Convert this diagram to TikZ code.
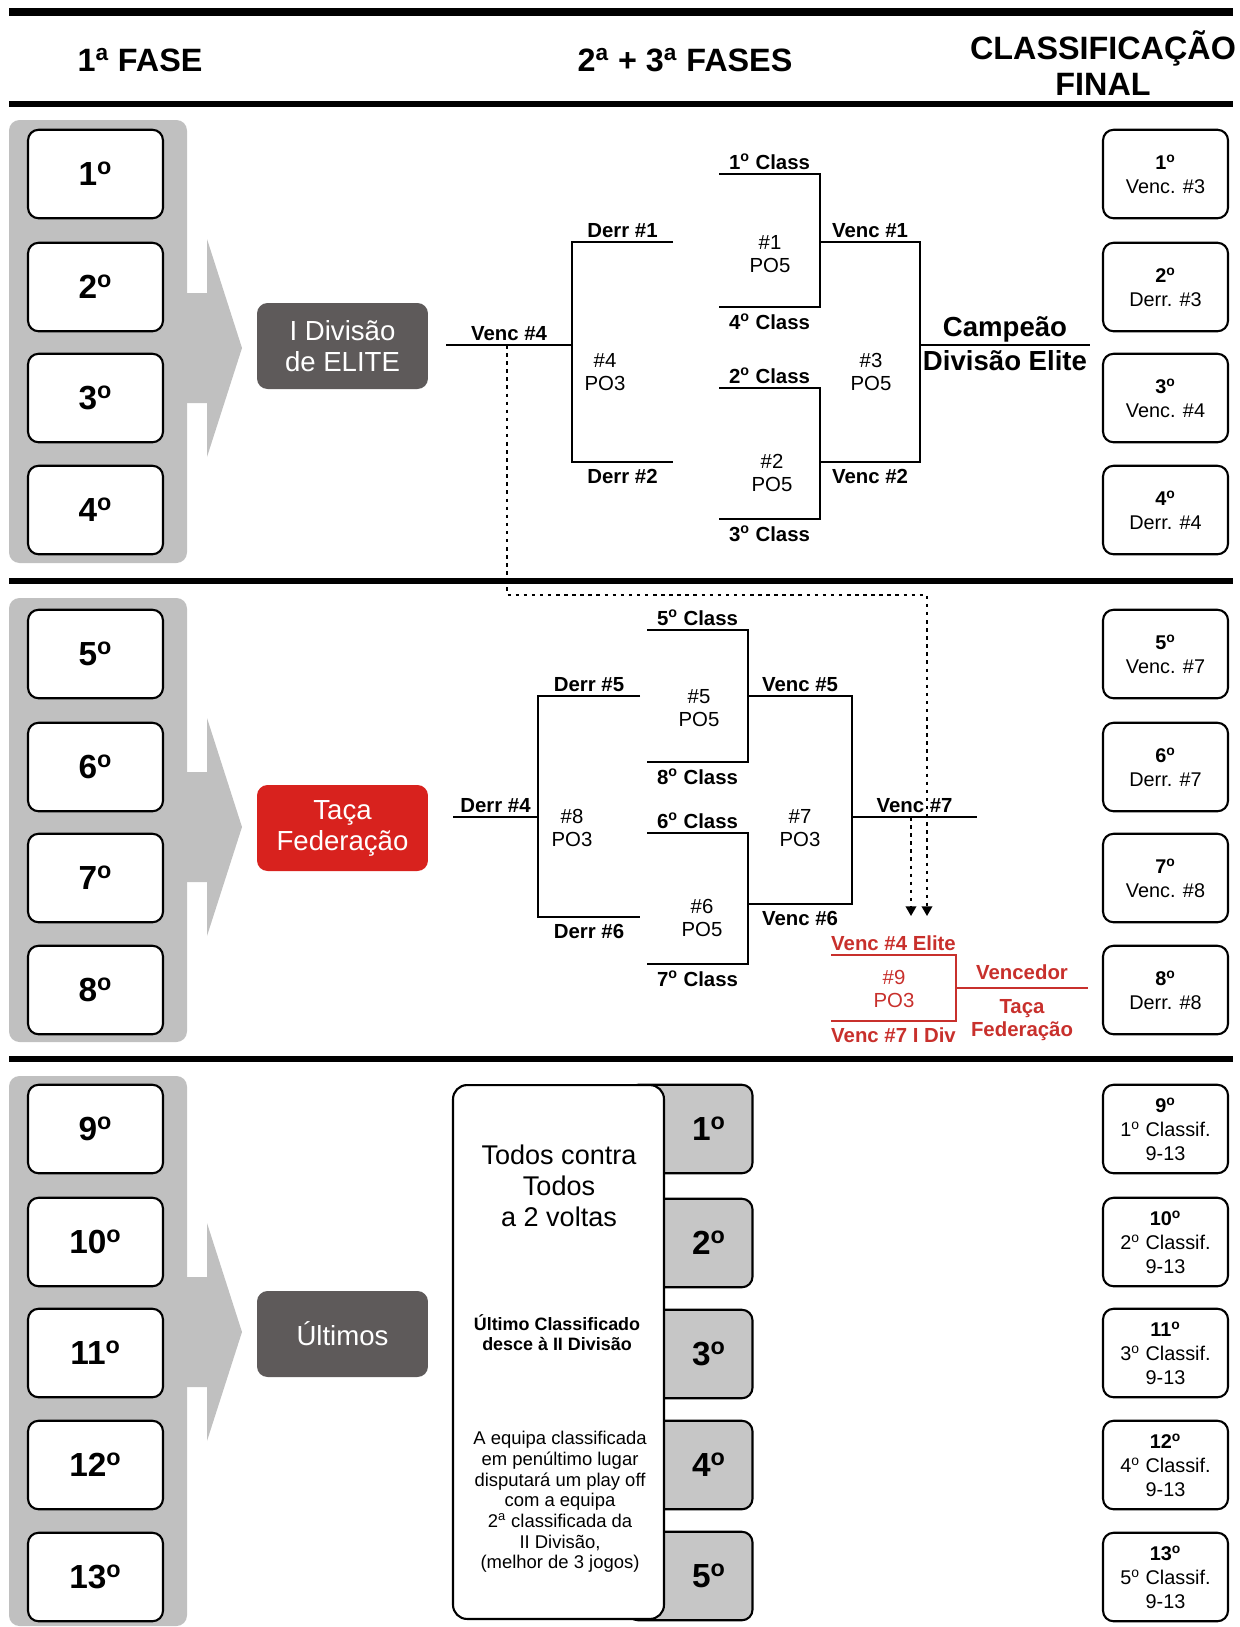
\documentclass[tikz,border=0pt]{standalone}
\usepackage{fontspec}
\setmainfont{Liberation Sans}
\usetikzlibrary{arrows.meta}

\definecolor{panelgray}{HTML}{C0C0C0}
\definecolor{tabgray}{HTML}{C6C6C6}
\definecolor{darkbox}{HTML}{5E5A5A}
\definecolor{redbox}{HTML}{D8221E}
\definecolor{redtxt}{HTML}{C8302C}

\newcommand{\ordo}{\textsuperscript{o}}
\newcommand{\orda}{\textsuperscript{a}}

\tikzset{
  rankbox/.style={rectangle, draw, line width=1.2pt, rounded corners=6pt, fill=white,
    minimum width=2.7cm, minimum height=1.77cm, font=\fontsize{19}{22}\selectfont\bfseries},
  resbox/.style={rectangle, draw, line width=1.2pt, rounded corners=6pt, fill=white,
    minimum width=2.5cm, minimum height=1.77cm, align=center, font=\fontsize{11.3}{13.6}\selectfont},
  tabbox/.style={rectangle, draw, line width=1.2pt, rounded corners=6pt, fill=tabgray,
    minimum width=2.5cm, minimum height=1.77cm},
  divbox/.style={rectangle, rounded corners=6pt, text=white, minimum width=3.42cm,
    minimum height=1.72cm, align=center, font=\fontsize{15.7}{17.6}\selectfont},
  head/.style={align=center, font=\fontsize{18.4}{20.4}\selectfont\bfseries},
  lbl/.style={font=\fontsize{11.6}{13.3}\selectfont\bfseries, align=center},
  lblup/.style={lbl, above, inner sep=2pt},
  lbldn/.style={lbl, below, inner sep=3.5pt},
  game/.style={align=center, font=\fontsize{11.6}{13.5}\selectfont},
  bline/.style={line width=1.2pt},
  rule/.style={line width=3.6pt},
  feed/.style={line width=1.1pt, dash pattern=on 2pt off 2.6pt, -{Triangle[width=6pt,length=5.5pt]}}
}

% bracket: [opts]{name}{x open end}{x spine}{y top}{y bottom}{top label}{bottom label}
\newcommand{\matchtie}[8][]{%
  \coordinate (#2a) at (#3,#5);
  \coordinate (#2b) at (#4,#5);
  \coordinate (#2c) at (#4,#6);
  \coordinate (#2d) at (#3,#6);
  \draw[bline,#1] (#2a) -- node[lblup] (#2top) {#7} (#2b) -- (#2c)
    -- node[lbldn] (#2bot) {#8} (#2d);
}
% grey arrow out of a panel
\newcommand{\bigarrow}[1]{%
  \fill[panelgray] (187,#1-55) -- (207,#1-55) -- (207,#1-109) -- (242,#1)
    -- (207,#1+109) -- (207,#1+55) -- (187,#1+55) -- cycle;
}

\begin{document}
\begin{tikzpicture}[x=0.02cm, y=-0.02cm]
  \useasboundingbox (0,0) rectangle (1240,1627);

  % Header
  \node (h1) [head] at (140,60) {1\orda{} FASE};
  \node (h2) [head] at (685,60) {2\orda{} + 3\orda{} FASES};
  \node (h3) [head] at (1103,63) {CLASSIFICAÇÃO\\FINAL};

  % Panels and arrows
  \fill[panelgray, rounded corners=6pt] (9,120) rectangle (187,563);
  \fill[panelgray, rounded corners=6pt] (9,598) rectangle (187,1042);
  \fill[panelgray, rounded corners=6pt] (9,1076) rectangle (187,1626);
  \bigarrow{348}
  \bigarrow{827}
  \bigarrow{1332}

  % Nodes: first phase
  \foreach \y [count=\i] in {174,287,398,510}
    \node (a\i) [rankbox] at (95.5,\y) {\i\ordo};
  \foreach \y [count=\i from 5] in {654,767,878,990}
    \node (a\i) [rankbox] at (95.5,\y) {\i\ordo};
  \foreach \y [count=\i from 9] in {1129,1242,1353,1465,1577}
    \node (a\i) [rankbox] at (95.5,\y) {\i\ordo};

  \node (elite) [divbox, fill=darkbox] at (342.5,346) {I Divisão\\de ELITE};
  \node (taca) [divbox, fill=redbox] at (342.5,828) {Taça\\Federação};
  \node (ultimos) [divbox, fill=darkbox] at (342.5,1334) {Últimos};

  % Nodes: final classification
  \foreach \y/\i/\r in {174/1/Venc. \#3, 287/2/Derr. \#3, 398/3/Venc. \#4, 510/4/Derr. \#4,
      654/5/Venc. \#7, 767/6/Derr. \#7, 878/7/Venc. \#8, 990/8/Derr. \#8}
    \node (f\i) [resbox] at (1165.5,\y) {\textbf{\i\ordo}\\\r};
  \foreach \y/\i/\k in {1129/9/1, 1242/10/2, 1353/11/3, 1465/12/4, 1577/13/5}
    \node (f\i) [resbox] at (1165.5,\y) {\textbf{\i\ordo}\\\k\ordo{} Classif.\\9-13};

  % Elite brackets
  \matchtie{t4}{673}{572}{242}{462}{Derr \#1}{Derr \#2}
  \matchtie{t1}{719}{820}{174}{307}{1\ordo{} Class}{4\ordo{} Class}
  \matchtie{t2}{719}{820}{388}{519}{2\ordo{} Class}{3\ordo{} Class}
  \matchtie{t3}{820}{920}{242}{462}{Venc \#1}{Venc \#2}
  \coordinate (v4) at (446,345);
  \coordinate (ch1) at (1090,345);
  \draw[bline] (v4) -- node[lblup] (v4l) {Venc \#4} (v4 -| t4b);
  \draw[bline] (ch1 -| t3b) -- node[lblup, inner sep=1pt, font=\fontsize{15.7}{17}\selectfont\bfseries] (ch1a) {Campeão}
    node[below, inner sep=2.5pt, font=\fontsize{15.7}{17}\selectfont\bfseries] (ch1b) {Divisão Elite} (ch1);
  \node (g4) [game] at (605,372) {\#4\\PO3};
  \node (g1) [game] at (770,254) {\#1\\PO5};
  \node (g2) [game] at (772,473) {\#2\\PO5};
  \node (g3) [game] at (871,372) {\#3\\PO5};

  % Taca brackets
  \matchtie{t8}{640}{538}{696}{917}{Derr \#5}{Derr \#6}
  \matchtie{t5}{647}{748}{630}{762}{5\ordo{} Class}{8\ordo{} Class}
  \matchtie{t6}{647}{748}{833}{964}{6\ordo{} Class}{7\ordo{} Class}
  \matchtie{t7}{748}{852}{696}{904}{Venc \#5}{Venc \#6}
  \coordinate (d4) at (453,817);
  \coordinate (v7) at (977,817);
  \draw[bline] (d4) -- node[lblup] (d4l) {Derr \#4} (d4 -| t8b);
  \draw[bline] (v7 -| t7b) -- node[lblup] (v7l) {Venc \#7} (v7);
  \node (g8) [game] at (572,828) {\#8\\PO3};
  \node (g5) [game] at (699,708) {\#5\\PO5};
  \node (g6) [game] at (702,918) {\#6\\PO5};
  \node (g7) [game] at (800,828) {\#7\\PO3};

  % Final play off
  \matchtie[redtxt]{t9}{831}{956}{955}{1021}{Venc \#4 Elite}{Venc \#7 I Div}
  \coordinate (ch9) at (1088,988);
  \draw[bline, redtxt] (ch9 -| t9b) -- node[lblup, inner sep=4.4pt] (ch9a) {Vencedor}
    node[lbldn, inner sep=5.8pt] (ch9b) {Taça\\Federação} (ch9);
  \node (g9) [game, text=redtxt] at (894,989) {\#9\\PO3};

  % Arrows
  \coordinate (v4d) at (507,345);
  \coordinate (fold) at (927,595);
  \coordinate (e4) at (927,916);
  \coordinate (v7d) at (911,817);
  \coordinate (e7) at (911,916);
  \draw[feed] (v4d) |- (fold) -- (e4);
  \draw[feed] (v7d) -- (e7);

  % Round robin
  \foreach \y [count=\i] in {1129,1243,1354,1465,1576}
    \node (tab\i) [tabbox] at (690,\y) {};
  \node (rr) [draw, line width=1.2pt, rounded corners=8pt, fill=white, minimum width=4.22cm,
    minimum height=10.68cm] at (558.5,1352) {};
  \foreach \y [count=\i] in {1129,1243,1354,1465,1576}
    \node (tabn\i) [font=\fontsize{19}{22}\selectfont\bfseries] at (709,\y) {\i\ordo};
  \node (rr1) [align=center, font=\fontsize{15.4}{17.6}\selectfont] at (559,1186)
    {Todos contra\\Todos\\a 2 voltas};
  \node (rr2) [align=center, font=\fontsize{10.2}{11.3}\selectfont\bfseries] at (557,1333)
    {Último Classificado\\desce à II Divisão};
  \node (rr3) [align=center, font=\fontsize{10.5}{11.8}\selectfont] at (560,1502)
    {A equipa classificada\\em penúltimo lugar\\disputará um play off\\com a equipa\\2\orda{} classificada da\\II Divisão,\\(melhor de 3 jogos)};

  % Rules
  \draw[rule, line width=4pt] (9,12) -- (1233,12);
  \draw[rule] (9,104) -- (1233,104);
  \draw[rule] (9,581) -- (1233,581);
  \draw[rule] (9,1059) -- (1233,1059);
\end{tikzpicture}
\end{document}
